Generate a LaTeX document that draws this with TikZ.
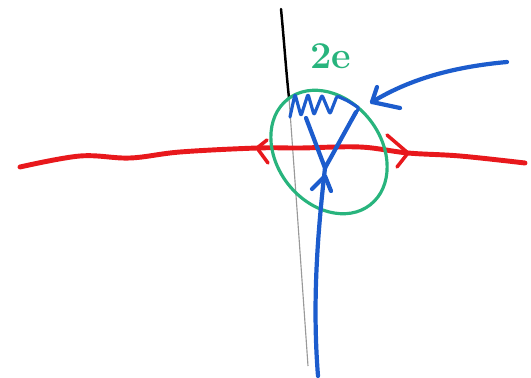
\documentclass[tikz,border=0pt]{standalone}
\usepackage{tikz}
\usetikzlibrary{arrows.meta, calc}
\definecolor{penred}{RGB}{232,24,28}
\definecolor{penblue}{RGB}{28,92,205}
\definecolor{pengreen}{RGB}{40,180,125}

\begin{document}
\begin{tikzpicture}[x=0.5mm, y=-0.5mm,
	redpen/.style={draw=penred, line width=7pt, line cap=round, line join=round},
	bluepen/.style={draw=penblue, line width=6pt, line cap=round, line join=round},
	greenpen/.style={draw=pengreen, line width=4.5pt}]
	\useasboundingbox (0,0) rectangle (531,378);
	
	% 竖直线
	\draw[line width=3.5pt, line cap=round] (281,9) .. controls (284,40) and (286,70) .. (289,98);
	\draw[gray!80, line width=1.6pt] (289,98) .. controls (295,180) and (302,280) .. (308,366);
	
	% 红色水平线
	\draw[redpen] plot[smooth, tension=0.6] coordinates {(20,167) (80,156) (130,158) (180,152) (257,148) (300,148) (360,147) (408,153) (460,156) (525,163)};
	\draw[redpen, line width=5pt] (267,140) -- (257,148) -- (268,163);
	\draw[redpen, line width=5pt] (387,135) -- (408,153) -- (397,167);
	
	% 绿色椭圆与标记
	\draw[greenpen, rotate around={-52:(329,152)}] (329,152) ellipse (67 and 52);
	\node[text=pengreen, font=\fontsize{54}{54}\selectfont\bfseries] at (331,56) {2e};
	
	% 右上方蓝线
	\draw[bluepen] (507,62) .. controls (440,68) and (400,85) .. (372,102);
	\draw[bluepen] (377,87) -- (372,102) -- (400,108);
	
	% 下方蓝线及分叉
	\draw[bluepen] (318,376) .. controls (312,300) and (318,230) .. (325,168);
	\draw[bluepen] (312,189) -- (325,176) -- (331,191);
	\draw[bluepen] (306,118) -- (325,168) -- (356,112);
	
	% 椭圆内的蓝色曲线
	\draw[bluepen, line width=4.5pt, rounded corners=2pt] (290,117) -- (295,94) -- (301,116) -- (308,94) -- (314,115) -- (322,95) -- (330,114) -- (337,96) -- (348,101) -- (359,108) -- (351,121);
\end{tikzpicture}
\end{document}
